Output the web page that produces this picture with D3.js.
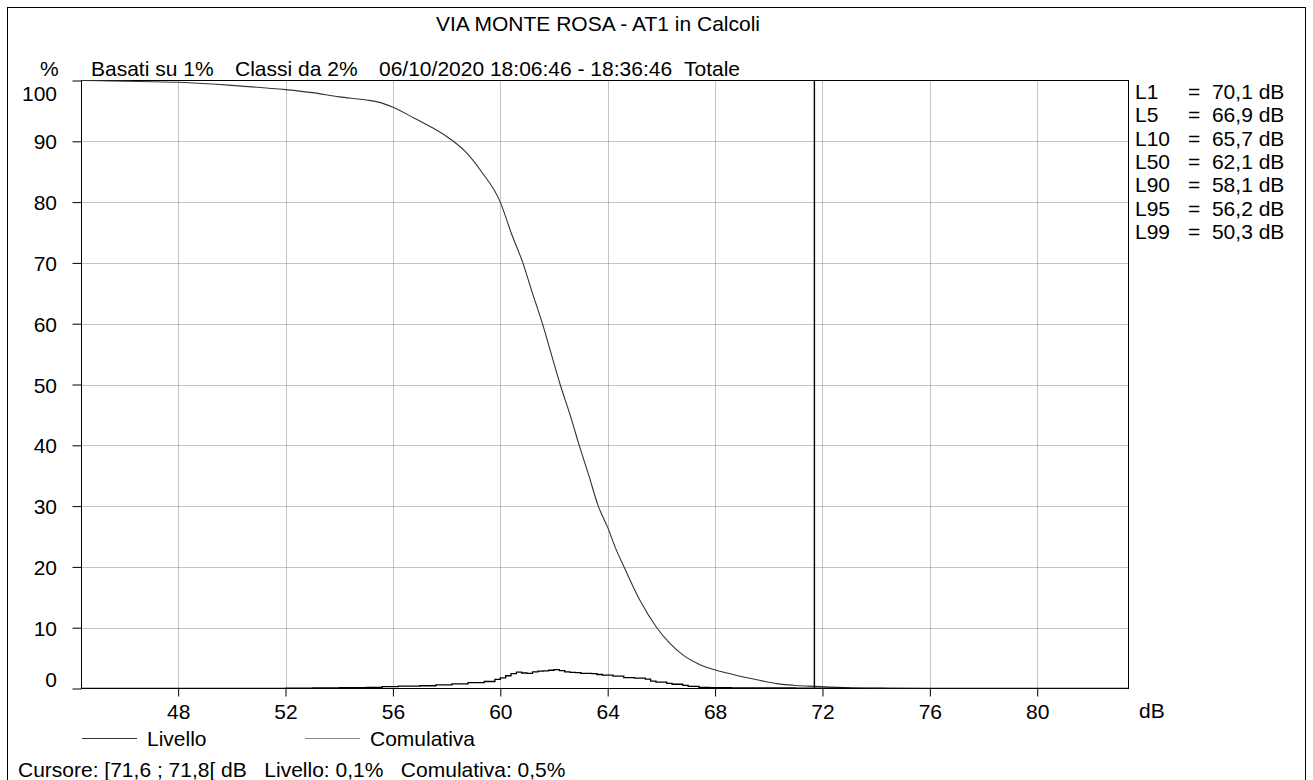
<!DOCTYPE html>
<html>
<head>
<meta charset="utf-8">
<script src="https://cdn.jsdelivr.net/npm/d3@7"></script>
<style>
  html, body { margin: 0; padding: 0; background: #fff; }
  svg { display: block; font-family: Arial, "Liberation Sans", sans-serif; }
</style>
</head>
<body>
<svg id="chart" width="1313" height="780"></svg>
<script>
// ---- data ----
const title = "VIA MONTE ROSA - AT1 in Calcoli";
const headerParts = ["Basati su 1%", "Classi da 2%", "06/10/2020 18:06:46 - 18:36:46", "Totale"];
const xTicks = [48, 52, 56, 60, 64, 68, 72, 76, 80];
const yTicks = [0, 10, 20, 30, 40, 50, 60, 70, 80, 90, 100];

// Comulativa (percent exceeding level)
const cumDb  = [44.4, 45.1, 46, 48, 50, 52, 53, 54, 55, 55.5, 56, 56.8, 57.4, 58.0, 58.25, 58.7, 59.3, 60.0, 60.4, 60.84, 61.2, 61.57, 61.9, 62.23, 62.6, 62.94, 63.3, 63.65, 64.0, 64.3, 64.61, 65.2, 65.83, 66.3, 66.82, 67.4, 67.94, 68.5, 69.06, 69.7, 70.3, 71.0, 71.73, 73.0, 74.5, 76.4, 83.4];
const cumPct = [100, 99.95, 99.9, 99.7, 99.2, 98.5, 98.0, 97.3, 96.8, 96.4, 95.6, 93.8, 92.4, 90.8, 90, 88.3, 85, 80, 75, 70, 65, 60, 55, 50, 45, 40, 35, 30, 26.5, 23, 20, 14.5, 10, 7.5, 5.45, 4.0, 3.14, 2.5, 1.88, 1.3, 0.8, 0.5, 0.35, 0.13, 0.05, 0, 0];

// Livello (distribution per class)
const levDb  = [44.4, 50, 52, 53, 54, 55, 55.6, 56.2, 57, 57.6, 58.2, 58.8, 59.4, 59.8, 60.0, 60.2, 60.4, 60.6, 60.8, 61.0, 61.2, 61.4, 61.6, 61.8, 62.0, 62.2, 62.4, 62.6, 62.8, 63.0, 63.4, 63.6, 63.8, 64.2, 64.6, 65.0, 65.4, 65.6, 65.8, 66.2, 66.4, 66.8, 67.0, 67.4, 67.8, 68.6, 70, 71, 72, 73, 74, 83.4];
const levPct = [0, 0.02, 0.05, 0.1, 0.15, 0.2, 0.3, 0.4, 0.45, 0.6, 0.75, 0.95, 1.15, 1.5, 1.75, 2.1, 2.45, 2.7, 2.55, 2.5, 2.75, 2.85, 2.9, 3.0, 3.1, 2.95, 2.75, 2.65, 2.6, 2.5, 2.45, 2.3, 2.2, 2.05, 1.8, 1.7, 1.55, 1.2, 1.05, 0.85, 0.7, 0.5, 0.35, 0.2, 0.12, 0.1, 0.08, 0.06, 0.04, 0.02, 0, 0];

const lNames  = ["L1", "L5", "L10", "L50", "L90", "L95", "L99"];
const lValues = ["70,1", "66,9", "65,7", "62,1", "58,1", "56,2", "50,3"];

const cursorDb = 71.7;
const cursorText = "Cursore: [71,6 ; 71,8[ dB   Livello: 0,1%   Comulativa: 0,5%";
const legendLabels = ["Livello", "Comulativa"];

// ---- layout ----
const svg = d3.select("#chart");
const FS = 21;
const FF = "Arial, 'Liberation Sans', sans-serif";
const pLeft = 81.5, pRight = 1128.5, pTop = 80.5, pBottom = 688.5;

const x = d3.scaleLinear().domain([44.4, 83.4]).range([pLeft, pRight]);
const y = d3.scaleLinear().domain([0, 100]).range([pBottom, pTop]);

function txt(xx, yy, s, anchor) {
  return svg.append("text").attr("x", xx).attr("y", yy).attr("font-size", FS)
    .attr("font-family", FF).attr("text-anchor", anchor || "start")
    .style("white-space", "pre").text(s);
}

// outer frame
svg.append("rect").attr("x", 7.5).attr("y", 7.5).attr("width", 1298).attr("height", 790)
  .attr("fill", "none").attr("stroke", "#000").attr("stroke-width", 1);

// title
txt(598, 31, title, "middle");

// header
const headerX = [91, 235, 379, 684];
headerParts.forEach((s, i) => txt(headerX[i], 76, s));
txt(40, 76, "%");

// grid
const g = svg.append("g");
g.selectAll("line.vg").data(xTicks).join("line").attr("class", "vg")
  .attr("x1", d => Math.round(x(d)) + 0.5).attr("x2", d => Math.round(x(d)) + 0.5)
  .attr("y1", pTop).attr("y2", pBottom)
  .attr("stroke", "#888").attr("stroke-dasharray", "1,1");
g.selectAll("line.hg").data(yTicks.filter(d => d > 0 && d < 100)).join("line").attr("class", "hg")
  .attr("y1", d => Math.round(y(d)) + 0.5).attr("y2", d => Math.round(y(d)) + 0.5)
  .attr("x1", pLeft).attr("x2", pRight)
  .attr("stroke", "#888").attr("stroke-dasharray", "1,1");

// axes via d3
const xAxis = d3.axisBottom(x).tickValues(xTicks).tickSize(8).tickSizeOuter(0).tickPadding(0);
const xg = svg.append("g").attr("transform", `translate(0,${pBottom})`).call(xAxis);
xg.select(".domain").remove();
xg.selectAll("text").attr("font-size", FS).attr("font-family", FF).attr("fill", "#000")
  .attr("y", 30).attr("dy", null);
xg.selectAll("line").attr("stroke", "#000");

const yAxis = d3.axisLeft(y).tickValues(yTicks).tickSize(9).tickSizeOuter(0).tickPadding(0);
const yg = svg.append("g").attr("transform", `translate(${pLeft},0)`).call(yAxis);
yg.select(".domain").remove();
yg.selectAll("text").attr("font-size", FS).attr("font-family", FF).attr("fill", "#000")
  .attr("x", 57 - pLeft)
  .attr("dy", d => d === 100 ? "20px" : d === 0 ? "-2px" : "7.5px");
yg.selectAll("line").attr("stroke", "#000");

// plot frame
svg.append("rect").attr("x", pLeft).attr("y", pTop).attr("width", pRight - pLeft).attr("height", pBottom - pTop)
  .attr("fill", "none").attr("stroke", "#000").attr("stroke-width", 1);

// x unit
txt(1139, 718, "dB");

// curves
svg.append("clipPath").attr("id", "clip").append("rect")
  .attr("x", pLeft).attr("y", pTop - 2).attr("width", pRight - pLeft).attr("height", pBottom - pTop + 2);

const cumData = cumDb.map((d, i) => [d, cumPct[i]]);
const levData = levDb.map((d, i) => [d, levPct[i]]);

svg.append("path").datum(cumData).attr("clip-path", "url(#clip)")
  .attr("fill", "none").attr("stroke", "#333").attr("stroke-width", 1.1)
  .attr("d", d3.line().x(d => x(d[0])).y(d => y(d[1])).curve(d3.curveMonotoneX));

svg.append("path").datum(levData).attr("clip-path", "url(#clip)")
  .attr("fill", "none").attr("stroke", "#000").attr("stroke-width", 1.3)
  .attr("d", d3.line().x(d => x(d[0])).y(d => y(d[1])).curve(d3.curveStepAfter));

// cursor
svg.append("line").attr("x1", x(cursorDb)).attr("x2", x(cursorDb)).attr("y1", pTop).attr("y2", pBottom)
  .attr("stroke", "#000").attr("stroke-width", 1.4);

// L values
lNames.forEach((n, i) => {
  const yy = 99 + i * 23.3;
  txt(1135, yy, n);
  txt(1188, yy, "=  " + lValues[i] + " dB");
});

// legend
const legY = 738;
const legItems = [{x0: 82, x1: 137, tx: 147, col: "#333"}, {x0: 305, x1: 360, tx: 370, col: "#888"}];
legItems.forEach((it, i) => {
  svg.append("line").attr("x1", it.x0).attr("x2", it.x1).attr("y1", legY + 0.5).attr("y2", legY + 0.5)
    .attr("stroke", it.col).attr("stroke-width", 1);
  txt(it.tx, legY + 7.5, legendLabels[i]);
});

// cursor text
txt(18, 777, cursorText);
</script>
</body>
</html>
